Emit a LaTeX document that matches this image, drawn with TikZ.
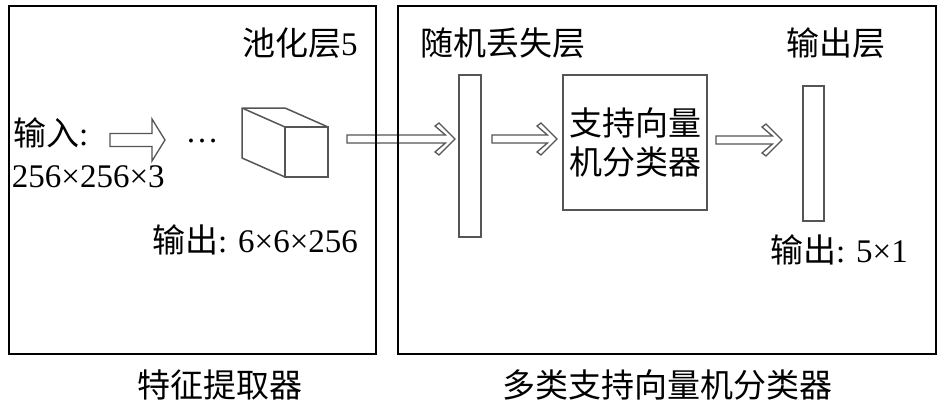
\documentclass[tikz,border=0pt]{standalone}
\usepackage{fontspec}
\setmainfont{Liberation Serif}
\newfontfamily\cjk{Noto Sans CJK SC}
\usetikzlibrary{calc}
\definecolor{partgray}{RGB}{85,85,85}
\begin{document}
\begin{tikzpicture}[x=1pt,y=-1pt,
  every node/.style={inner sep=0pt, outer sep=0pt, font=\fontsize{33}{39}\selectfont},
  frame/.style={draw=black, line width=2pt},
  part/.style={draw=partgray, line width=1.5pt, fill=white},
  cubeline/.style={draw=partgray, line width=1.5pt, line join=round},
  lbl/.style={anchor=west},
  chev/.style={draw=partgray, line width=1.3pt, fill=white, line join=miter,
    to path={let \p1=(\tikztostart), \p2=(\tikztotarget) in
      (\x1,\y1+4pt) -- (\x2-9.6pt,\y1+4pt) -- (\x2-20pt,\y1+13pt) -- (\x2-16pt,\y1+16pt)
      -- (\x2,\y1) -- (\x2-16pt,\y1-16pt) -- (\x2-20pt,\y1-13pt) -- (\x2-9.6pt,\y1-4pt)
      -- (\x1,\y1-4pt) -- cycle}},
  blockarr/.style={draw=partgray, line width=1.3pt, fill=white,
    to path={let \p1=(\tikztostart), \p2=(\tikztotarget) in
      (\x1,\y1+6.5pt) -- (\x2-13pt,\y1+6.5pt) -- (\x2-13pt,\y1+21pt) -- (\x2,\y1)
      -- (\x2-13pt,\y1-21pt) -- (\x2-13pt,\y1-6.5pt) -- (\x1,\y1-6.5pt) -- cycle}},
]
\useasboundingbox (0,0) rectangle (945,404);

% labels
\node[lbl] (pool) at (242,43) {{\cjk 池化层}5};
\node[lbl] (droplbl) at (420,43) {\cjk 随机丢失层};
\node[lbl] (outlbl) at (786,43) {\cjk 输出层};
\node[lbl] (in) at (13,133) {{\cjk 输入}:};
\node[lbl] (insize) at (12,177) {256×256×3};
\node (dots) at (202,141) {…};
\node[lbl] (o1) at (152,240) {{\cjk 输出}: 6×6×256};
\node[lbl] (o2) at (770,250) {{\cjk 输出}: 5×1};
\node (fl) at (220,385) {\cjk 特征提取器};
\node (fr) at (667,385) {\cjk 多类支持向量机分类器};

% cube
\node[part, minimum width=43pt, minimum height=50pt] (cube) at (306.5,152) {};
\draw[cubeline] (cube.north west) -- ++(-43,-19) coordinate (btl) -- ++(43,0) -- (cube.north east);
\draw[cubeline] (btl) -- ++(0,50) -- (cube.south west);

% blocks
\node[part, minimum width=22pt, minimum height=162pt] (drop) at (470,156) {};
\node[part, minimum width=144pt, minimum height=135pt, align=center,
      font={\cjk\fontsize{33}{39}\selectfont}] (svm) at (635,142.5) {支持向量\\机分类器};
\node[part, minimum width=21pt, minimum height=135pt] (out) at (813.5,153.5) {};

% arrows
\coordinate (a1s) at (110,140);
\coordinate (a1e) at (165,140);
\draw[blockarr] (a1s) to (a1e);
\draw[chev] ([xshift=19pt,yshift=13pt]cube.east) to ([xshift=-4pt]drop.west);
\draw[chev] ([xshift=11pt,yshift=17pt]drop.east) to ([xshift=-6pt]svm.west);
\draw[chev] ([xshift=9pt,yshift=2.5pt]svm.east) to ([xshift=-21pt]out.west);

% frames
\node[frame, minimum width=367pt, minimum height=348pt] (fe) at (192.5,180) {};
\node[frame, minimum width=538pt, minimum height=348pt] (fsvm) at (667,180) {};
\end{tikzpicture}
\end{document}
